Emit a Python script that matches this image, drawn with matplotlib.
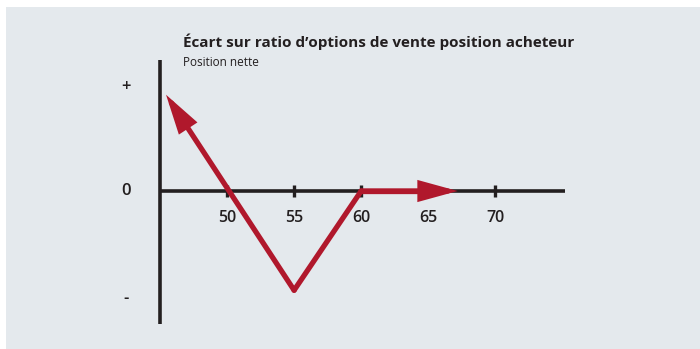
import matplotlib.pyplot as plt
import matplotlib.patches as mpatches
import matplotlib.transforms as mtransforms

# Payoff of the put ratio spread (net position vs. underlying price)
payoff_x = [45.45, 55, 60, 67.2]
payoff_y = [4.85, -5, 0, 0]

strike_ticks = [50, 55, 60, 65, 70]
strike_labels = ['50', '55', '60', '65', '70']
level_pos = [5.25, 0, -5.45]
level_labels = ['+', '0', '-']

TITLE = 'Écart sur ratio d\u2019options de vente position acheteur'
SUBTITLE = 'Position nette'

BG = '#e4e9ed'
RED = '#b0182c'
INK = '#231f20'
FONT = ['Open Sans', 'DejaVu Sans']

fig = plt.figure(figsize=(7.0, 3.49), dpi=100)
fig.patch.set_facecolor('white')
W, H = 700, 349

# background panel
fig.patches.append(mpatches.Rectangle((6 / W, 0), 1 - 6 / W, 1 - 7 / H,
                                      transform=fig.transFigure,
                                      facecolor=BG, edgecolor='none', zorder=-10))

# axes box in pixel terms: x 160..565, y 60..324
ax = fig.add_axes([160 / W, 1 - 324 / H, 405 / W, 264 / H])
ax.set_zorder(5)
ax.set_facecolor('none')
ax.set_xlim(45, 75.2)
ax.set_ylim(-6.7, 6.6)

for s in ['top', 'right']:
    ax.spines[s].set_visible(False)
ax.spines['bottom'].set_position(('data', 0))
for s in ['left', 'bottom']:
    ax.spines[s].set_color(INK)
    ax.spines[s].set_linewidth(2.6)
    ax.spines[s].set_capstyle('butt')

ax.set_xticks(strike_ticks)
ax.set_xticklabels(strike_labels)
ax.tick_params(axis='x', direction='inout', length=9, width=2.4, color=INK,
               pad=9, labelsize=11.5, labelcolor=INK)
for lbl in ax.get_xticklabels():
    lbl.set_family(FONT)
    lbl.set_fontweight('semibold')

# "+", "0", "-" level labels left of the vertical axis
ax.set_yticks([])
shift = mtransforms.ScaledTranslation(-34 / 100, 0, fig.dpi_scale_trans)
for pos, txt in zip(level_pos, level_labels):
    ax.text(0, pos, txt, transform=ax.get_yaxis_transform() + shift,
            ha='center', va='center', fontsize=12, fontweight='semibold',
            color=INK, family=FONT)

# red payoff line with arrow heads at both ends
ax.plot(payoff_x[1:3], payoff_y[1:3], color=RED, lw=3.8, solid_capstyle='round',
        solid_joinstyle='miter', zorder=3)
ax.plot([payoff_x[2], payoff_x[3] - 1.5], [payoff_y[2], payoff_y[3]],
        color=RED, lw=3.8, solid_capstyle='butt', zorder=3)
for i0, i1 in [(1, 0), (2, 3)]:
    ax.annotate('', xy=(payoff_x[i1], payoff_y[i1]),
                xytext=(payoff_x[i0], payoff_y[i0]),
                arrowprops=dict(arrowstyle='-|>,head_length=2.0,head_width=0.55',
                                color=RED, lw=3.8, shrinkA=0, shrinkB=0,
                                joinstyle='miter'),
                zorder=4)

fig.text(183 / W, 1 - 42 / H, TITLE, ha='left', va='center', fontsize=11,
         fontweight='bold', color=INK, family=FONT)
fig.text(183 / W, 1 - 63 / H, SUBTITLE, ha='left', va='center', fontsize=8.5,
         color=INK, family=FONT)

fig.savefig('out.png', dpi=100, facecolor=fig.get_facecolor())
